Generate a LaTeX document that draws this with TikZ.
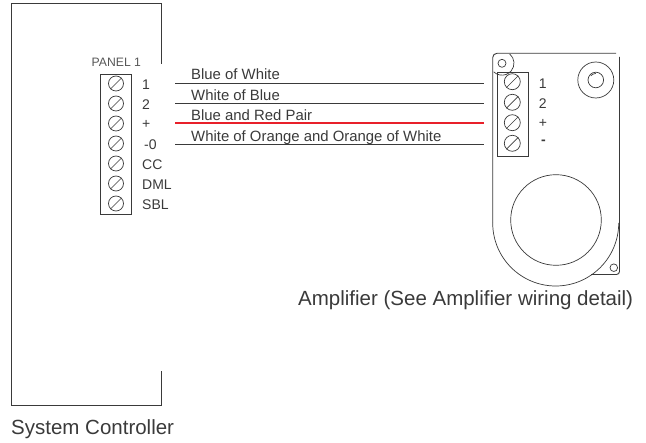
\documentclass[tikz,border=0pt]{standalone}
\usepackage{fontspec}
\setmainfont{Liberation Sans}
\definecolor{ink}{HTML}{3A3A3A}
\definecolor{redw}{HTML}{E8202A}
\tikzset{
  outline/.style={draw=ink,line width=0.9pt},
  thin line/.style={draw=ink,line width=0.7pt},
  termblock/.style={outline,fill=none},
  screw/.style={draw=ink,line width=0.7pt,circle,minimum size=15pt,inner sep=0pt,
    append after command={\pgfextra{\draw[ink,line width=0.7pt] (\tikzlastnode.south west) -- (\tikzlastnode.north east);}}},
  termlabel/.style={text=ink,anchor=west,font=\fontsize{14}{16}\selectfont,inner sep=0pt},
  wirelabel/.style={text=ink,anchor=base west,font=\fontsize{14.9}{17}\selectfont,inner sep=0pt},
  caption/.style={text=ink,anchor=base west,font=\fontsize{20.5}{24}\selectfont,inner sep=0pt},
  wire/.style={draw=ink,line width=0.9pt},
  redwire/.style={draw=redw,line width=2pt},
}
\begin{document}
\begin{tikzpicture}[x=1pt,y=1pt]
\useasboundingbox (0,-443) rectangle (646,0);
% system controller outline
\draw[outline] (161.5,-64) -- (161.5,-3) -- (11.5,-3) -- (11.5,-405) -- (161.5,-405) -- (161.5,-371);
\node[caption] (sc) at (11,-435) {System Controller};
\node[text=ink!85,anchor=base west,font=\fontsize{12.2}{14}\selectfont,inner sep=0pt] (pl) at (91.5,-67) {PANEL 1};
% panel block
\draw[termblock] (100.5,-74) rectangle (131,-214);
\foreach \n/\y in {1/83.5,2/103.5,3/123.5,4/143.5,5/163.5,6/183.5,7/203.5}
  \node[screw] (p\n) at (116,-\y) {};
\node[termlabel] (pt1) at (142,-84.5) {1};
\node[termlabel] (pt2) at (142,-104.5) {2};
\node[termlabel] (pt3) at (142,-124.5) {+};
\node[termlabel] (pt4) at (144,-145) {-0};
\node[termlabel] (pt5) at (142,-164.5) {CC};
\node[termlabel] (pt6) at (142,-184.5) {DML};
\node[termlabel] (pt7) at (142,-204.5) {SBL};
% wire ends
\foreach \n/\y in {1/83.3,2/103.7,3/123,4/144} {
  \coordinate (wl\n) at (175,-\y);
  \coordinate (wr\n) at (484,-\y);
}
\draw[wire] (wl1) -- (wr1);
\draw[wire] (wl2) -- (wr2);
\draw[wire] (wl4) -- (wr4);
\draw[redwire] (wl3) -- (wr3);
\node[wirelabel] (w1) at (191,-80) {Blue of White};
\node[wirelabel] (w2) at (191,-101) {White of Blue};
\node[wirelabel] (w3) at (191,-121) {Blue and Red Pair};
\node[wirelabel] (w4) at (191,-141.5) {White of Orange and Orange of White};
% amplifier housing
\draw[outline] (616,-53.3) -- (497,-53.3) arc[start angle=90,end angle=180,radius=4.3] -- (492.7,-223);
\draw[thin line] (492.7,-223) arc[start angle=180,end angle=360,radius=63];
\draw[outline] (591,-274.5) -- (616.5,-274.5) arc[start angle=-90,end angle=0,radius=3] -- (619.5,-57);
\draw[thin line] (502,-63.3) circle[radius=4];
\draw[thin line] (509.7,-54) arc[start angle=50,end angle=-134,radius=12];
\draw[thin line] (613.8,-267.7) circle[radius=3.8];
\draw[thin line] (595.8,-80) circle[radius=18];
\draw[thin line] (595.8,-80) circle[radius=7.8];
\draw[thin line] (590.8,-75.8) arc[start angle=140,end angle=90,radius=6.5];
\draw[thin line] (556,-220) circle[radius=45.3];
% amplifier block
\draw[termblock] (497,-72.5) rectangle (528,-156);
\foreach \n/\y in {1/81.7,2/102.3,3/122.7,4/143.3}
  \node[screw,minimum size=16pt] (a\n) at (512.3,-\y) {};
\node[termlabel] (at1) at (538.7,-84) {1};
\node[termlabel] (at2) at (538.7,-103.5) {2};
\node[termlabel] (at3) at (538.7,-123) {+};
\node[termlabel,font=\fontsize{14}{16}\selectfont\bfseries] (at4) at (541,-142.5) {-};
\node[caption] (amp) at (298,-306) {Amplifier (See Amplifier wiring detail)};
\end{tikzpicture}
\end{document}
